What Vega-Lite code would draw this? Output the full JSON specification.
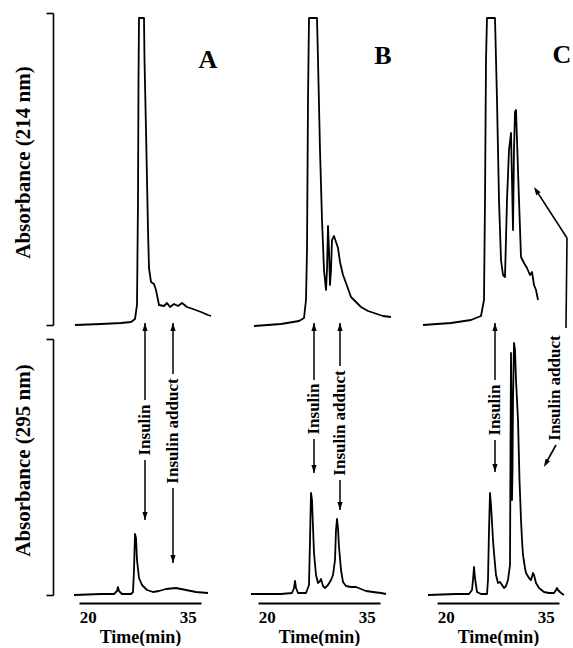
{
  "$schema": "https://vega.github.io/schema/vega-lite/v6.json",
  "background": "white",
  "padding": {"left": 12, "top": 12, "right": 2, "bottom": 0},
  "columns": 3,
  "spacing": {"row": 14, "column": 57},
  "bounds": "flush",
  "config": {
    "view": {"stroke": null},
    "axis": {"grid": false, "domainColor": "black", "tickColor": "black", "labelColor": "black", "titleColor": "black", "labelFont": "Liberation Serif", "titleFont": "Liberation Serif", "labelFontWeight": "bold", "titleFontWeight": "bold", "domainWidth": 1.6, "tickWidth": 1.6},
    "text": {"font": "Liberation Serif", "fontWeight": "bold", "color": "black"},
    "line": {"color": "black", "strokeWidth": 1.8, "strokeJoin": "round"},
    "rule": {"color": "black", "strokeWidth": 1.5}
  },
  "datasets": {
    "A214": [{"t":18.10,"a":0},{"t":22.00,"a":1},{"t":25.00,"a":2},{"t":26.50,"a":3},{"t":27.10,"a":6},{"t":27.40,"a":20},{"t":27.55,"a":125},{"t":27.625,"a":245},{"t":27.70,"a":307},{"t":28.45,"a":307},{"t":28.525,"a":265},{"t":28.75,"a":195},{"t":29.05,"a":95},{"t":29.20,"a":57},{"t":29.50,"a":43},{"t":29.95,"a":41},{"t":30.25,"a":35},{"t":30.55,"a":25},{"t":30.70,"a":20},{"t":31.45,"a":19},{"t":31.90,"a":22},{"t":32.35,"a":18},{"t":32.95,"a":21},{"t":33.55,"a":19},{"t":34.15,"a":22},{"t":34.90,"a":18},{"t":35.80,"a":16},{"t":37.00,"a":13},{"t":38.05,"a":10},{"t":38.50,"a":9}],
    "A295": [{"t":17.95,"a":0},{"t":22.00,"a":1},{"t":23.95,"a":1},{"t":24.40,"a":4},{"t":24.55,"a":8},{"t":24.70,"a":4},{"t":25.15,"a":1},{"t":26.50,"a":1},{"t":26.80,"a":3},{"t":26.95,"a":25},{"t":27.10,"a":61},{"t":27.25,"a":57},{"t":27.40,"a":35},{"t":27.70,"a":17},{"t":28.15,"a":10},{"t":28.90,"a":5},{"t":29.80,"a":3},{"t":30.70,"a":4},{"t":31.75,"a":6},{"t":33.25,"a":7},{"t":34.75,"a":5},{"t":36.25,"a":3},{"t":38.05,"a":2}],
    "B214": [{"t":18.10,"a":-1},{"t":22.15,"a":1},{"t":24.85,"a":4},{"t":25.60,"a":7},{"t":25.90,"a":25},{"t":26.05,"a":75},{"t":26.20,"a":225},{"t":26.35,"a":307},{"t":27.55,"a":307},{"t":27.70,"a":265},{"t":28.00,"a":175},{"t":28.30,"a":105},{"t":28.60,"a":55},{"t":28.90,"a":35},{"t":29.05,"a":55},{"t":29.20,"a":99},{"t":29.35,"a":75},{"t":29.50,"a":40},{"t":29.65,"a":55},{"t":29.80,"a":85},{"t":30.10,"a":89},{"t":30.40,"a":83},{"t":30.70,"a":77},{"t":31.00,"a":63},{"t":31.45,"a":50},{"t":31.90,"a":42},{"t":32.65,"a":28},{"t":33.40,"a":23},{"t":34.15,"a":18},{"t":35.20,"a":14},{"t":36.10,"a":12},{"t":37.45,"a":9},{"t":38.65,"a":8}],
    "B295": [{"t":17.65,"a":1},{"t":22.15,"a":1},{"t":23.80,"a":2},{"t":24.10,"a":7},{"t":24.25,"a":14},{"t":24.40,"a":7},{"t":24.70,"a":2},{"t":25.90,"a":2},{"t":26.35,"a":10},{"t":26.50,"a":55},{"t":26.65,"a":102},{"t":26.80,"a":95},{"t":27.10,"a":42},{"t":27.40,"a":20},{"t":27.70,"a":12},{"t":28.00,"a":14},{"t":28.15,"a":16},{"t":28.45,"a":9},{"t":28.75,"a":7},{"t":29.20,"a":10},{"t":29.65,"a":15},{"t":29.95,"a":20},{"t":30.25,"a":35},{"t":30.40,"a":65},{"t":30.55,"a":76},{"t":30.70,"a":67},{"t":30.85,"a":48},{"t":31.15,"a":25},{"t":31.45,"a":13},{"t":31.90,"a":9},{"t":32.65,"a":8},{"t":33.40,"a":8},{"t":34.15,"a":6},{"t":34.90,"a":4},{"t":35.95,"a":3},{"t":37.15,"a":2},{"t":37.90,"a":1}],
    "C214": [{"t":16.60,"a":0},{"t":20.80,"a":2},{"t":23.80,"a":5},{"t":25.30,"a":9},{"t":25.75,"a":25},{"t":25.90,"a":125},{"t":26.05,"a":265},{"t":26.20,"a":307},{"t":27.40,"a":307},{"t":27.70,"a":225},{"t":28.00,"a":125},{"t":28.30,"a":65},{"t":28.60,"a":50},{"t":28.90,"a":48},{"t":29.20,"a":125},{"t":29.50,"a":175},{"t":29.80,"a":192},{"t":29.95,"a":145},{"t":30.10,"a":95},{"t":30.25,"a":175},{"t":30.40,"a":213},{"t":30.55,"a":215},{"t":30.70,"a":185},{"t":31.00,"a":125},{"t":31.30,"a":68},{"t":31.75,"a":62},{"t":32.20,"a":57},{"t":32.65,"a":50},{"t":32.95,"a":53},{"t":33.25,"a":40},{"t":33.55,"a":35},{"t":33.85,"a":25}],
    "C295": [{"t":17.35,"a":0},{"t":21.55,"a":1},{"t":23.50,"a":1},{"t":23.95,"a":5},{"t":24.10,"a":15},{"t":24.25,"a":28},{"t":24.40,"a":17},{"t":24.70,"a":3},{"t":25.30,"a":1},{"t":26.20,"a":1},{"t":26.35,"a":15},{"t":26.50,"a":65},{"t":26.65,"a":102},{"t":26.80,"a":90},{"t":27.10,"a":55},{"t":27.25,"a":42},{"t":27.55,"a":20},{"t":27.85,"a":12},{"t":28.15,"a":13},{"t":28.45,"a":10},{"t":28.75,"a":7},{"t":29.05,"a":9},{"t":29.35,"a":15},{"t":29.65,"a":30},{"t":29.725,"a":145},{"t":29.80,"a":242},{"t":29.875,"a":175},{"t":29.95,"a":95},{"t":30.025,"a":125},{"t":30.10,"a":195},{"t":30.25,"a":252},{"t":30.40,"a":245},{"t":30.55,"a":215},{"t":30.85,"a":175},{"t":31.075,"a":115},{"t":31.30,"a":75},{"t":31.45,"a":55},{"t":31.60,"a":40},{"t":31.90,"a":27},{"t":32.05,"a":22},{"t":32.50,"a":17},{"t":32.80,"a":15},{"t":33.10,"a":22},{"t":33.25,"a":20},{"t":33.55,"a":12},{"t":34.00,"a":7},{"t":34.75,"a":3},{"t":35.50,"a":2},{"t":36.25,"a":2},{"t":36.55,"a":5},{"t":36.70,"a":7},{"t":36.85,"a":5},{"t":37.30,"a":2},{"t":37.75,"a":0}],
    "arrows": [
      {"panel":"A","label":"Insulin","t":28.6,"tip":272,"upperEnd":195,"mid":165,"lowerStart":135,"end":75},
      {"panel":"A","label":"Insulin adduct","t":32.8,"tip":272,"upperEnd":221,"mid":164,"lowerStart":107,"end":32},
      {"panel":"B","label":"Insulin","t":27.1,"tip":272,"upperEnd":215,"mid":186,"lowerStart":156,"end":122},
      {"panel":"B","label":"Insulin adduct","t":31.0,"tip":272,"upperEnd":229,"mid":172,"lowerStart":115,"end":85},
      {"panel":"C","label":"Insulin","t":27.4,"tip":272,"upperEnd":215,"mid":185,"lowerStart":155,"end":123}
    ],
    "cTopPath": [{"t":33.58,"a":134.6,"t2":38.2,"a2":87},{"t":38.2,"a":87,"t2":38.05,"a2":-3}],
    "cBottomPath": [{"t":36.55,"a":150,"t2":35.05,"a2":132}]
  },
  "concat": [
    {
      "width": 122, "height": 312,
      "layer": [
        {"data": {"name": "A214"}, "mark": {"type": "line"},
         "encoding": {
           "x": {"field": "t", "type": "quantitative", "scale": {"domain": [18.7, 37], "nice": false, "zero": false}, "axis": null},
           "y": {"field": "a", "type": "quantitative", "scale": {"domain": [0, 312], "nice": false, "zero": false},
                 "axis": {"values": [0, 312], "labels": false, "tickSize": 7, "offset": 26, "title": "Absorbance (214 nm)", "titleFontSize": 21, "titlePadding": 12, "titleY": 149}}
         }},
        {"data": {"values": [{"panel": "A"}]}, "mark": {"type": "text", "fontSize": 26},
         "encoding": {
           "x": {"datum": 38.05, "type": "quantitative", "scale": {"domain": [18.7, 37], "nice": false, "zero": false}, "axis": null},
           "y": {"datum": 265, "type": "quantitative", "scale": {"domain": [0, 312], "nice": false, "zero": false}},
           "text": {"field": "panel"}
         }}
      ]
    },
    {
      "width": 122, "height": 312,
      "layer": [
        {"data": {"name": "B214"}, "mark": {"type": "line"},
         "encoding": {
           "x": {"field": "t", "type": "quantitative", "scale": {"domain": [18.7, 37], "nice": false, "zero": false}, "axis": null},
           "y": {"field": "a", "type": "quantitative", "scale": {"domain": [0, 312], "nice": false, "zero": false}, "axis": null}
         }},
        {"data": {"values": [{"panel": "B"}]}, "mark": {"type": "text", "fontSize": 26},
         "encoding": {
           "x": {"datum": 37.45, "type": "quantitative", "scale": {"domain": [18.7, 37], "nice": false, "zero": false}, "axis": null},
           "y": {"datum": 269, "type": "quantitative", "scale": {"domain": [0, 312], "nice": false, "zero": false}, "axis": null},
           "text": {"field": "panel"}
         }}
      ]
    },
    {
      "width": 122, "height": 312,
      "layer": [
        {"data": {"name": "C214"}, "mark": {"type": "line"},
         "encoding": {
           "x": {"field": "t", "type": "quantitative", "scale": {"domain": [18.7, 37], "nice": false, "zero": false}, "axis": null},
           "y": {"field": "a", "type": "quantitative", "scale": {"domain": [0, 312], "nice": false, "zero": false}, "axis": null}
         }},
        {"data": {"values": [{"panel": "C"}]}, "mark": {"type": "text", "fontSize": 26},
         "encoding": {
           "x": {"datum": 37.45, "type": "quantitative", "scale": {"domain": [18.7, 37], "nice": false, "zero": false}, "axis": null},
           "y": {"datum": 270, "type": "quantitative", "scale": {"domain": [0, 312], "nice": false, "zero": false}, "axis": null},
           "text": {"field": "panel"}
         }},
        {"data": {"name": "cTopPath"}, "mark": {"type": "rule", "strokeWidth": 1.6},
         "encoding": {
           "x": {"field": "t", "type": "quantitative", "scale": {"domain": [18.7, 37], "nice": false, "zero": false}, "axis": null},
           "x2": {"field": "t2"},
           "y": {"field": "a", "type": "quantitative", "scale": {"domain": [0, 312], "nice": false, "zero": false}, "axis": null},
           "y2": {"field": "a2"}
         }},
        {"data": {"values": [{"label": "Insulin adduct"}]}, "mark": {"type": "point", "shape": "M0,-1L-0.65,1L0.65,1Z", "filled": true, "opacity": 1, "color": "black", "size": 64, "strokeWidth": 0, "angle": -33},
         "encoding": {
           "x": {"datum": 33.58, "type": "quantitative", "scale": {"domain": [18.7, 37], "nice": false, "zero": false}, "axis": null},
           "y": {"datum": 134.6, "type": "quantitative", "scale": {"domain": [0, 312], "nice": false, "zero": false}, "axis": null}
         }}
      ]
    },
    {
      "width": 122, "height": 256,
      "layer": [
        {"data": {"name": "A295"}, "mark": {"type": "line"},
         "encoding": {
           "x": {"field": "t", "type": "quantitative", "scale": {"domain": [18.7, 37], "nice": false, "zero": false},
                 "axis": {"values": [20, 35], "ticks": false, "tickSize": 0, "labelPadding": 6, "offset": 8, "labelFontSize": 17, "labelFlush": false, "title": "Time(min)", "titleFontSize": 18, "titlePadding": 3, "domainWidth": 1.8}},
           "y": {"field": "a", "type": "quantitative", "scale": {"domain": [0, 256], "nice": false, "zero": false},
                 "axis": {"values": [0, 256], "labels": false, "tickSize": 7, "offset": 26, "title": "Absorbance (295 nm)", "titleFontSize": 21, "titlePadding": 12, "titleY": 121}}
         }},
        {"data": {"name": "arrows"}, "transform": [{"filter": "datum.panel === 'A'"}],
         "encoding": {"x": {"field": "t", "type": "quantitative", "scale": {"domain": [18.7, 37], "nice": false, "zero": false}}},
         "layer": [
           {"mark": {"type": "rule"}, "encoding": {"y": {"field": "tip", "type": "quantitative", "scale": {"domain": [0, 256], "nice": false, "zero": false}}, "y2": {"field": "upperEnd"}}},
           {"mark": {"type": "rule"}, "encoding": {"y": {"field": "lowerStart", "type": "quantitative", "scale": {"domain": [0, 256], "nice": false, "zero": false}}, "y2": {"field": "end"}}},
           {"mark": {"type": "point", "shape": "M0,-1L-0.65,1L0.65,1Z", "filled": true, "opacity": 1, "color": "black", "size": 64, "strokeWidth": 0, "yOffset": 4}, "encoding": {"y": {"field": "tip", "type": "quantitative", "scale": {"domain": [0, 256], "nice": false, "zero": false}}}},
           {"mark": {"type": "point", "shape": "M0,1L-0.65,-1L0.65,-1Z", "filled": true, "opacity": 1, "color": "black", "size": 64, "strokeWidth": 0, "yOffset": -4}, "encoding": {"y": {"field": "end", "type": "quantitative", "scale": {"domain": [0, 256], "nice": false, "zero": false}}}},
           {"mark": {"type": "text", "fontSize": 17, "angle": 270, "align": "center", "baseline": "middle"}, "encoding": {"y": {"field": "mid", "type": "quantitative", "scale": {"domain": [0, 256], "nice": false, "zero": false}}, "text": {"field": "label"}}}
         ]}
      ]
    },
    {
      "width": 122, "height": 256,
      "layer": [
        {"data": {"name": "B295"}, "mark": {"type": "line"},
         "encoding": {
           "x": {"field": "t", "type": "quantitative", "scale": {"domain": [18.7, 37], "nice": false, "zero": false},
                 "axis": {"values": [20, 35], "ticks": false, "tickSize": 0, "labelPadding": 6, "offset": 8, "labelFontSize": 17, "labelFlush": false, "title": "Time(min)", "titleFontSize": 18, "titlePadding": 3, "domainWidth": 1.8}},
           "y": {"field": "a", "type": "quantitative", "scale": {"domain": [0, 256], "nice": false, "zero": false}, "axis": null}
         }},
        {"data": {"name": "arrows"}, "transform": [{"filter": "datum.panel === 'B'"}],
         "encoding": {"x": {"field": "t", "type": "quantitative", "scale": {"domain": [18.7, 37], "nice": false, "zero": false}}},
         "layer": [
           {"mark": {"type": "rule"}, "encoding": {"y": {"field": "tip", "type": "quantitative", "scale": {"domain": [0, 256], "nice": false, "zero": false}, "axis": null}, "y2": {"field": "upperEnd"}}},
           {"mark": {"type": "rule"}, "encoding": {"y": {"field": "lowerStart", "type": "quantitative", "scale": {"domain": [0, 256], "nice": false, "zero": false}, "axis": null}, "y2": {"field": "end"}}},
           {"mark": {"type": "point", "shape": "M0,-1L-0.65,1L0.65,1Z", "filled": true, "opacity": 1, "color": "black", "size": 64, "strokeWidth": 0, "yOffset": 4}, "encoding": {"y": {"field": "tip", "type": "quantitative", "scale": {"domain": [0, 256], "nice": false, "zero": false}, "axis": null}}},
           {"mark": {"type": "point", "shape": "M0,1L-0.65,-1L0.65,-1Z", "filled": true, "opacity": 1, "color": "black", "size": 64, "strokeWidth": 0, "yOffset": -4}, "encoding": {"y": {"field": "end", "type": "quantitative", "scale": {"domain": [0, 256], "nice": false, "zero": false}, "axis": null}}},
           {"mark": {"type": "text", "fontSize": 17, "angle": 270, "align": "center", "baseline": "middle"}, "encoding": {"y": {"field": "mid", "type": "quantitative", "scale": {"domain": [0, 256], "nice": false, "zero": false}, "axis": null}, "text": {"field": "label"}}}
         ]}
      ]
    },
    {
      "width": 122, "height": 256,
      "layer": [
        {"data": {"name": "C295"}, "mark": {"type": "line"},
         "encoding": {
           "x": {"field": "t", "type": "quantitative", "scale": {"domain": [18.7, 37], "nice": false, "zero": false},
                 "axis": {"values": [20, 35], "ticks": false, "tickSize": 0, "labelPadding": 6, "offset": 8, "labelFontSize": 17, "labelFlush": false, "title": "Time(min)", "titleFontSize": 18, "titlePadding": 3, "domainWidth": 1.8}},
           "y": {"field": "a", "type": "quantitative", "scale": {"domain": [0, 256], "nice": false, "zero": false}, "axis": null}
         }},
        {"data": {"name": "arrows"}, "transform": [{"filter": "datum.panel === 'C'"}],
         "encoding": {"x": {"field": "t", "type": "quantitative", "scale": {"domain": [18.7, 37], "nice": false, "zero": false}}},
         "layer": [
           {"mark": {"type": "rule"}, "encoding": {"y": {"field": "tip", "type": "quantitative", "scale": {"domain": [0, 256], "nice": false, "zero": false}, "axis": null}, "y2": {"field": "upperEnd"}}},
           {"mark": {"type": "rule"}, "encoding": {"y": {"field": "lowerStart", "type": "quantitative", "scale": {"domain": [0, 256], "nice": false, "zero": false}, "axis": null}, "y2": {"field": "end"}}},
           {"mark": {"type": "point", "shape": "M0,-1L-0.65,1L0.65,1Z", "filled": true, "opacity": 1, "color": "black", "size": 64, "strokeWidth": 0, "yOffset": 4}, "encoding": {"y": {"field": "tip", "type": "quantitative", "scale": {"domain": [0, 256], "nice": false, "zero": false}, "axis": null}}},
           {"mark": {"type": "point", "shape": "M0,1L-0.65,-1L0.65,-1Z", "filled": true, "opacity": 1, "color": "black", "size": 64, "strokeWidth": 0, "yOffset": -4}, "encoding": {"y": {"field": "end", "type": "quantitative", "scale": {"domain": [0, 256], "nice": false, "zero": false}, "axis": null}}},
           {"mark": {"type": "text", "fontSize": 17, "angle": 270, "align": "center", "baseline": "middle"}, "encoding": {"y": {"field": "mid", "type": "quantitative", "scale": {"domain": [0, 256], "nice": false, "zero": false}, "axis": null}, "text": {"field": "label"}}}
         ]},
        {"data": {"name": "cBottomPath"}, "mark": {"type": "rule", "strokeWidth": 1.6},
         "encoding": {
           "x": {"field": "t", "type": "quantitative", "scale": {"domain": [18.7, 37], "nice": false, "zero": false}},
           "x2": {"field": "t2"},
           "y": {"field": "a", "type": "quantitative", "scale": {"domain": [0, 256], "nice": false, "zero": false}, "axis": null},
           "y2": {"field": "a2"}
         }},
        {"data": {"values": [{"label": "Insulin adduct"}]}, "mark": {"type": "point", "shape": "M0,1L-0.65,-1L0.65,-1Z", "filled": true, "opacity": 1, "color": "black", "size": 64, "strokeWidth": 0, "angle": 29},
         "encoding": {
           "x": {"datum": 35.03, "type": "quantitative", "scale": {"domain": [18.7, 37], "nice": false, "zero": false}},
           "y": {"datum": 131.5, "type": "quantitative", "scale": {"domain": [0, 256], "nice": false, "zero": false}, "axis": null}
         }},
        {"data": {"values": [{"label": "Insulin adduct"}]}, "mark": {"type": "text", "fontSize": 17, "angle": 270, "align": "center", "baseline": "middle"},
         "encoding": {
           "x": {"datum": 36.4, "type": "quantitative", "scale": {"domain": [18.7, 37], "nice": false, "zero": false}},
           "y": {"datum": 207, "type": "quantitative", "scale": {"domain": [0, 256], "nice": false, "zero": false}, "axis": null},
           "text": {"field": "label"}
         }}
      ]
    }
  ]
}
